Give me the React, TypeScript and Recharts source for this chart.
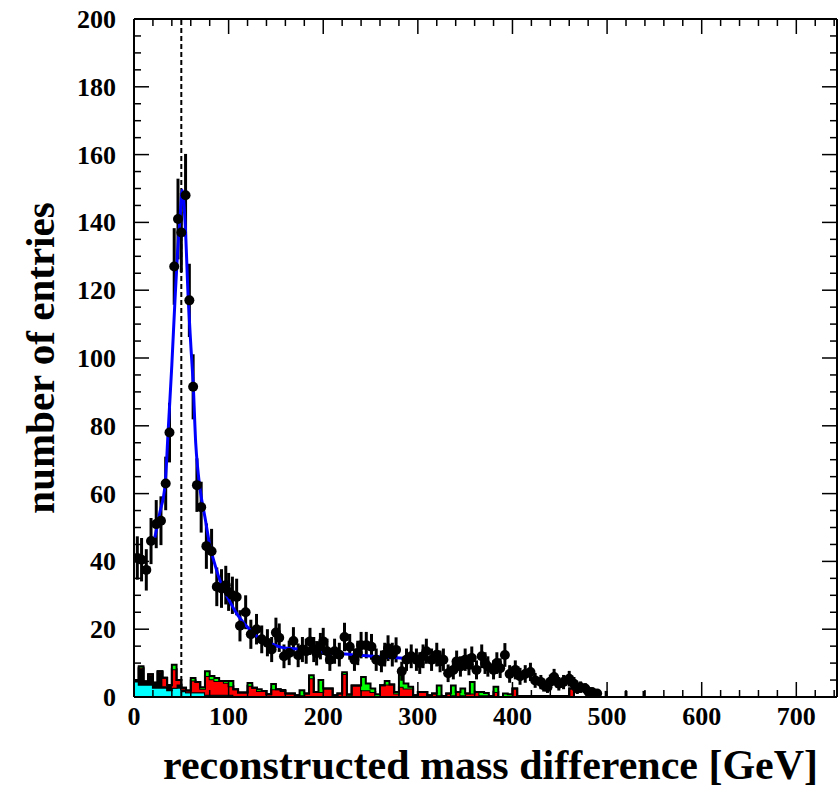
import React from 'react';
import {
    ComposedChart,
    XAxis,
    YAxis,
    Scatter,
    ErrorBar,
    Line,
    Area,
    ReferenceLine,
} from 'recharts';

// data points (bin centre, entries, error)
const pointX = [3.5, 8, 13, 18, 23.5, 28.5, 33.5, 37.5, 42.5, 46.5, 50, 54.5, 58.5, 62.5, 66.5, 71, 76.5, 82, 87.5, 92.5, 97, 100, 104, 108.5, 112, 118, 123.5, 129.5, 135, 141, 145.5, 150, 153.5, 158.5, 164, 168.5, 173.5, 178, 182, 186, 190, 193, 197, 200, 204, 207, 212, 217, 222.5, 228, 233, 236.5, 240, 245.5, 251, 256, 261.5, 265, 268.5, 273, 277, 283, 288, 293, 298.5, 302, 305.5, 309, 314.5, 320, 323.5, 327, 332, 337.5, 341, 345, 350, 354, 357, 362, 367.5, 371, 374, 380, 383.5, 387, 392, 397, 403, 408, 413.5, 419, 424, 430, 433, 437, 440, 444, 449, 454, 460, 465, 468.5, 472, 477, 480.5, 484, 489.5, 499, 520, 539];
const pointY = [41, 40.5, 37.5, 46, 51, 52, 63, 78, 127, 141, 137, 148, 117, 91.5, 62.5, 56, 44.5, 43, 32.5, 32, 33, 31, 30, 29.5, 21, 25, 18.5, 20, 17, 16, 14, 19, 17.5, 12, 13, 16.5, 12.3, 14, 13.5, 16.4, 14, 12.9, 15, 16.4, 13.5, 11, 13.5, 12.5, 17.7, 14.8, 11, 13, 15.3, 15.3, 14.8, 11, 10.5, 12.5, 14.4, 12.5, 13.9, 7.6, 11, 12, 11, 10, 12, 13.5, 11, 12.5, 10.5, 11, 7, 8, 10.5, 9, 11, 9.5, 11.5, 8, 12, 10, 9, 8, 10, 8.5, 12.4, 6.8, 8, 6.1, 6.8, 7.4, 4.9, 4.4, 3.5, 2.9, 4.5, 5.9, 3.9, 4.4, 5.4, 3.9, 2.5, 2.9, 2.5, 1.5, 1.5, 1, 0, 0, 0];
const pointErrLow = [6.4, 6.4, 6.1, 6.8, 7.1, 7.2, 7.9, 8.8, 11.3, 11.9, 11.7, 12.2, 10.8, 9.6, 7.9, 7.5, 6.7, 6.6, 5.7, 5.7, 5.7, 5.6, 5.5, 5.4, 4.6, 5, 4.3, 4.5, 4.1, 4, 3.7, 4.4, 4.2, 3.5, 3.6, 4.1, 3.5, 3.7, 3.7, 4, 3.7, 3.6, 3.9, 4, 3.7, 3.3, 3.7, 3.5, 4.2, 3.8, 3.3, 3.6, 3.9, 3.9, 3.8, 3.3, 3.2, 3.5, 3.8, 3.5, 3.7, 2.8, 3.3, 3.5, 3.3, 3.2, 3.5, 3.7, 3.3, 3.5, 3.2, 3.3, 2.6, 2.8, 3.2, 3, 3.3, 3.1, 3.4, 2.8, 3.5, 3.2, 3, 2.8, 3.2, 2.9, 3.5, 2.6, 2.8, 2.5, 2.6, 2.7, 2.2, 2.1, 1.9, 1.7, 2.1, 2.4, 2, 2.1, 2.3, 2, 1.6, 1.7, 1.6, 1.2, 1.2, 1, 0, 0, 0];
const pointErrHigh = [6.4, 6.4, 6.1, 6.8, 7.1, 7.2, 7.9, 8.8, 11.3, 11.9, 11.7, 12.2, 10.8, 9.6, 7.9, 7.5, 6.7, 6.6, 5.7, 5.7, 5.7, 5.6, 5.5, 5.4, 4.6, 5, 4.3, 4.5, 4.1, 4, 3.7, 4.4, 4.2, 3.5, 3.6, 4.1, 3.5, 3.7, 3.7, 4, 3.7, 3.6, 3.9, 4, 3.7, 3.3, 3.7, 3.5, 4.2, 3.8, 3.3, 3.6, 3.9, 3.9, 3.8, 3.3, 3.2, 3.5, 3.8, 3.5, 3.7, 2.8, 3.3, 3.5, 3.3, 3.2, 3.5, 3.7, 3.3, 3.5, 3.2, 3.3, 2.6, 2.8, 3.2, 3, 3.3, 3.1, 3.4, 2.8, 3.5, 3.2, 3, 2.8, 3.2, 2.9, 3.5, 2.6, 2.8, 2.5, 2.6, 2.7, 2.2, 2.1, 1.9, 1.7, 2.1, 2.4, 2, 2.1, 2.3, 2, 1.6, 1.7, 1.6, 1.2, 1.2, 1, 1.8, 1.8, 1.8];

// fit curve
const fitX = [22, 27, 33, 36, 40, 43.3, 46, 48.6, 51, 54, 57.4, 60, 62.7, 65.2, 67.5, 70, 75, 80, 85.6, 92, 100, 110, 122.6, 133, 143.8, 154, 170, 181, 200, 230, 260, 295, 300];
const fitY = [47, 54, 63, 78, 98, 117, 131, 141, 149.5, 140, 117, 104, 91.5, 75, 67, 61, 53, 45, 39, 33.5, 28.8, 24, 19.8, 17.3, 15.9, 14.8, 14.2, 13.9, 13.2, 12.5, 11.9, 11.2, 11.1];

// stacked background histograms, 5 GeV bins starting at 0
const binEdges = [0, 5, 10, 15, 20, 25, 30, 35, 40, 45, 50, 55, 60, 65, 70, 75, 80, 85, 90, 95, 100, 105, 110, 115, 120, 125, 130, 135, 140, 145, 150, 155, 160, 165, 170, 175, 180, 185, 190, 195, 200, 205, 210, 215, 220, 225, 230, 235, 240, 245, 250, 255, 260, 265, 270, 275, 280, 285, 290, 295, 300, 305, 310, 315, 320, 325, 330, 335, 340, 345, 350, 355, 360, 365, 370, 375, 380, 385, 390, 395, 400, 405, 410, 415, 420, 425, 430, 435, 440, 445, 450, 455, 460, 465, 470, 475, 480, 485, 490, 495];
const cyanHist = [4.6, 3.6, 3.6, 3.6, 2.7, 2.7, 2.7, 2, 2.7, 2.7, 1.7, 1.4, 1.4, 1.4, 1.4, 0.7, 0.7, 0.7, 0.7, 0.7, 0.7, 0.3, 0.3, 0.3, 0.3, 0.3, 0.3, 0.3, 0.3, 0.3, 0.3, 0.3, 0, 0, 0, 0, 0, 0, 0, 0, 0, 0, 0, 0, 0, 0, 0, 0, 0, 0, 0, 0, 0, 0, 0, 0, 0, 0, 0, 0, 0, 0, 0, 0, 0, 0, 0, 0, 0, 0, 0, 0, 0, 0, 0, 0, 0, 0, 0, 0, 0, 0, 0, 0, 0, 0, 0, 0, 0, 0, 0, 0, 0, 0, 0, 0, 0, 0, 0, 0];
const darkHist = [0.4, 4.8, 1, 2.8, 1.5, 4.6, 0.5, 1.5, 0, 1, 0.5, 0, 0, 0, 0, 0, 0, 0, 0, 0, 0, 0, 0, 0, 0, 0, 0, 0, 0, 0, 0, 0, 0, 0, 0, 0, 0, 0, 0, 0, 0, 0, 0, 0, 0, 0, 0, 0, 0, 0, 0, 0, 0, 0, 0, 0, 0, 0, 0, 0, 0, 0, 0, 0, 0, 0, 0, 0, 0, 0, 0, 0, 0, 0, 0, 0, 0, 0, 0, 0, 0, 0, 0, 0, 0, 0, 0, 0, 0, 0, 0, 0, 0, 0, 0, 0, 0, 0, 0, 0];
const redHist = [0, 0.3, 0, 0.3, 0, 0.3, 2.5, 0, 5.5, 1.3, 0.5, 0.5, 3.5, 3, 1, 5.5, 4.5, 4, 4, 3.5, 2.5, 2, 1, 1, 3, 2.4, 1.5, 1.5, 0.5, 2, 2, 1.5, 1, 1, 0.5, 0.5, 1, 5.5, 1.5, 1.5, 2.5, 2.5, 0.5, 1, 6.8, 0.5, 3.4, 3.4, 2, 2, 1.5, 0.3, 3.5, 3.7, 3.7, 1, 3, 2.5, 2.5, 0.5, 1.5, 1.5, 0.5, 1, 0.5, 0.3, 1, 0.5, 1.5, 0.5, 1, 1, 1.5, 0.5, 0.5, 0.3, 1.5, 0, 0.3, 0.3, 2.5, 0.3, 0.3, 0.3, 0.3, 0.3, 0.3, 0.3, 0.3, 0.3, 0.3, 0.3, 2.5, 0, 0, 0, 0, 0, 0, 0];
const greenHist = [0, 0.4, 0, 0, 0, 0, 0, 0, 1.3, 0, 0, 0, 0.7, 0, 0.5, 1.4, 1, 0.9, 0, 0.5, 1.5, 0, 0, 0, 0.8, 0, 0.5, 0, 0, 1.5, 0, 0.3, 0, 0, 0, 1.5, 0, 0.9, 0, 3.5, 0, 0, 0, 0, 0.5, 0.3, 0, 0, 3.9, 2, 1, 0.5, 0, 1, 0, 0.5, 4, 1.5, 0.5, 0, 0, 0, 0, 0, 2.9, 0, 0, 2.9, 0, 2, 0, 3.4, 0, 1, 0.7, 0, 1.5, 0, 0.7, 0.5, 0, 0, 0, 0, 0, 0, 0, 0, 0, 0, 0, 0, 0, 0, 0, 0, 0, 0, 0, 0];

const xTicks = [0, 20, 40, 60, 80, 100, 120, 140, 160, 180, 200, 220, 240, 260, 280, 300, 320, 340, 360, 380, 400, 420, 440, 460, 480, 500, 520, 540, 560, 580, 600, 620, 640, 660, 680, 700, 720, 740];
const yTicks = [0, 5, 10, 15, 20, 25, 30, 35, 40, 45, 50, 55, 60, 65, 70, 75, 80, 85, 90, 95, 100, 105, 110, 115, 120, 125, 130, 135, 140, 145, 150, 155, 160, 165, 170, 175, 180, 185, 190, 195, 200];

const points = pointX.map((x, i) => ({ x, y: pointY[i], e: [pointErrLow[i], pointErrHigh[i]] }));
const fit = fitX.map((x, i) => ({ x, y: fitY[i] }));
const hist = binEdges.map((x, i) => ({
    x,
    cyan: cyanHist[i],
    dark: darkHist[i],
    red: redHist[i],
    green: greenHist[i],
}));

const PLOT_W = 703;
const PLOT_H = 678;
const FONT = '"Liberation Serif", "Times New Roman", serif';

const BottomTick = (props: any) => {
    const { x, y, payload } = props;
    const v = payload.value;
    const major = v % 100 === 0;
    const len = major ? 15 : 7;
    return (
        <g>
            <line x1={x} x2={x} y1={y} y2={y - len} stroke="#000" strokeWidth={1.5} />
            <line x1={x} x2={x} y1={y - PLOT_H} y2={y - PLOT_H + len} stroke="#000" strokeWidth={1.5} />
            {major && (
                <text x={x} y={y + 28} textAnchor="middle" fontFamily={FONT} fontWeight="bold" fontSize={26} fill="#000">
                    {v}
                </text>
            )}
        </g>
    );
};

const LeftTick = (props: any) => {
    const { x, y, payload } = props;
    const v = payload.value;
    const major = v % 20 === 0;
    const len = major ? 15 : 7;
    return (
        <g>
            <line x1={x} x2={x + len} y1={y} y2={y} stroke="#000" strokeWidth={1.5} />
            <line x1={x + PLOT_W} x2={x + PLOT_W - len} y1={y} y2={y} stroke="#000" strokeWidth={1.5} />
            {major && (
                <text x={x - 18} y={y + 9} textAnchor="end" fontFamily={FONT} fontWeight="bold" fontSize={26} fill="#000">
                    {v}
                </text>
            )}
        </g>
    );
};

const Dot = (props: any) => {
    const { cx, cy, payload } = props;
    if (!payload || payload.y <= 0) return <g />;
    return <circle cx={cx} cy={cy} r={5} fill="#000" />;
};

export default function App() {
    return (
        <div style={{ position: 'absolute', left: 0, top: 0, width: 838, height: 787, background: '#fff' }}>
            <ComposedChart width={838} height={787} data={hist} margin={{ top: 19, right: 1, left: 74, bottom: 60 }}>
                <XAxis
                    type="number"
                    dataKey="x"
                    domain={[0, 743]}
                    ticks={xTicks}
                    interval={0}
                    allowDataOverflow
                    tickSize={0}
                    tickMargin={0}
                    height={30}
                    tick={<BottomTick />}
                    axisLine={{ stroke: '#000', strokeWidth: 2 }}
                />
                <YAxis
                    type="number"
                    dataKey="y"
                    domain={[0, 200]}
                    ticks={yTicks}
                    interval={0}
                    allowDataOverflow
                    tickSize={0}
                    tickMargin={0}
                    width={60}
                    tick={<LeftTick />}
                    axisLine={{ stroke: '#000', strokeWidth: 2 }}
                />
                <Area type="stepAfter" dataKey="cyan" stackId="bg" stroke="#000" strokeWidth={2} fill="#00ffff" fillOpacity={1} isAnimationActive={false} />
                <Area type="stepAfter" dataKey="dark" stackId="bg" stroke="#000" strokeWidth={2} fill="#000000" fillOpacity={1} isAnimationActive={false} />
                <Area type="stepAfter" dataKey="red" stackId="bg" stroke="#000" strokeWidth={2} fill="#ff0000" fillOpacity={1} isAnimationActive={false} />
                <Area type="stepAfter" dataKey="green" stackId="bg" stroke="#000" strokeWidth={2} fill="#00ff00" fillOpacity={1} isAnimationActive={false} />
                <ReferenceLine x={50} stroke="#000" strokeWidth={2} strokeDasharray="5 3" />
                <ReferenceLine y={200} stroke="#000" strokeWidth={2} />
                <ReferenceLine x={743} stroke="#000" strokeWidth={2} />
                <Scatter data={points} fill="#000" shape={<Dot />} isAnimationActive={false}>
                    <ErrorBar dataKey="e" direction="y" width={0} stroke="#000" strokeWidth={3} />
                </Scatter>
                <Line data={fit} dataKey="y" type="monotone" stroke="#0000ff" strokeWidth={3} dot={false} isAnimationActive={false} />
            </ComposedChart>
            <div
                style={{
                    position: 'absolute',
                    left: 163,
                    top: 741,
                    fontFamily: FONT,
                    fontWeight: 'bold',
                    fontSize: 42,
                    whiteSpace: 'nowrap',
                }}
            >
                reconstructed mass difference [GeV]
            </div>
            <div
                style={{
                    position: 'absolute',
                    left: 40,
                    top: 358,
                    transform: 'translate(-50%, -50%) rotate(-90deg)',
                    fontFamily: FONT,
                    fontWeight: 'bold',
                    fontSize: 41,
                    whiteSpace: 'nowrap',
                }}
            >
                number of entries
            </div>
        </div>
    );
}
